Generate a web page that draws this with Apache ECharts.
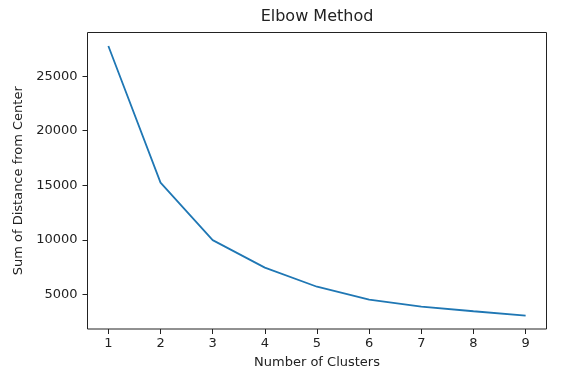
<!DOCTYPE html>
<html>
<head>
<meta charset="utf-8">
<script src="https://cdn.jsdelivr.net/npm/echarts@6/dist/echarts.min.js"></script>
<style>
html,body{margin:0;padding:0;background:#fff;}
#c{width:571px;height:380px;}
</style>
</head>
<body>
<div id="c"></div>
<script>
var clusters = [1, 2, 3, 4, 5, 6, 7, 8, 9];
var distances = [27770, 15240, 9970, 7450, 5700, 4520, 3880, 3450, 3060];
var xTicks = [1, 2, 3, 4, 5, 6, 7, 8, 9];
var yTicks = [5000, 10000, 15000, 20000, 25000];

var dMin = Math.min.apply(null, distances), dMax = Math.max.apply(null, distances);
var yPad = (dMax - dMin) * 0.05;
var xPad = (clusters[clusters.length - 1] - clusters[0]) * 0.05;

var font = 'DejaVu Sans';
var chart = echarts.init(document.getElementById('c'), null, {renderer: 'canvas'});
chart.setOption({
  animation: false,
  backgroundColor: '#fff',
  graphic: [{
    type: 'text', x: 317, y: 17, silent: true,
    style: {text: 'Elbow Method', fontFamily: font, fontSize: 16, fill: '#222', align: 'center', verticalAlign: 'middle'}
  }],
  grid: {
    left: 87.5, right: 24.5, top: 32.5, bottom: 51,
    show: true, borderColor: '#222', borderWidth: 1, backgroundColor: '#fff'
  },
  xAxis: {
    type: 'value',
    min: clusters[0] - xPad, max: clusters[clusters.length - 1] + xPad,
    name: 'Number of Clusters', nameLocation: 'middle', nameGap: 27,
    nameTextStyle: {fontFamily: font, fontSize: 13, color: '#222'},
    axisLine: {show: false},
    axisTick: {show: true, inside: false, length: 5, customValues: xTicks, lineStyle: {color: '#222'}},
    axisLabel: {customValues: xTicks, margin: 8, fontFamily: font, fontSize: 13, color: '#222'},
    splitLine: {show: false}
  },
  yAxis: {
    type: 'value',
    min: dMin - yPad, max: dMax + yPad,
    name: 'Sum of Distance from Center', nameLocation: 'middle', nameGap: 58, nameRotate: 90,
    nameTextStyle: {fontFamily: font, fontSize: 13, color: '#222'},
    axisLine: {show: false},
    axisTick: {show: true, inside: false, length: 5, customValues: yTicks, lineStyle: {color: '#222'}},
    axisLabel: {customValues: yTicks, margin: 10, fontFamily: font, fontSize: 13, color: '#222',
      formatter: function (v) { return String(v); }},
    splitLine: {show: false}
  },
  series: [{
    type: 'line',
    data: clusters.map(function (c, i) { return [c, distances[i]]; }),
    showSymbol: false,
    symbol: 'none',
    lineStyle: {color: '#1f77b4', width: 1.8},
    z: 3
  }]
});
</script>
</body>
</html>
